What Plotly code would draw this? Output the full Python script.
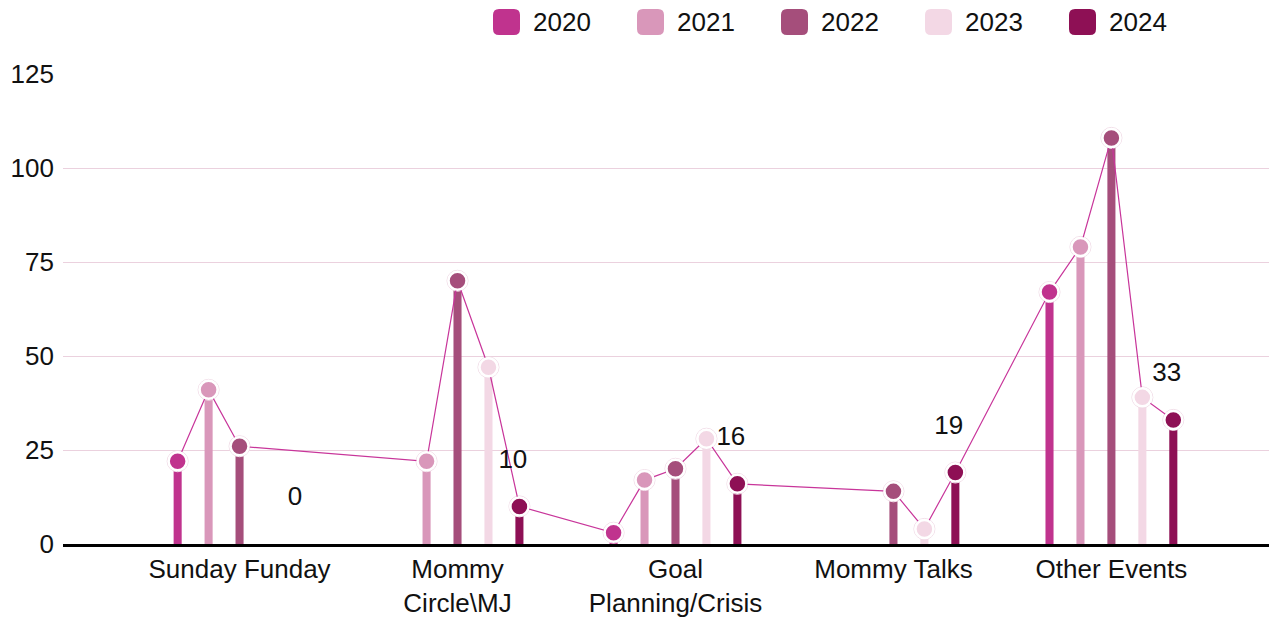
import plotly.graph_objects as go

categories = ["Sunday Funday", "Mommy<br>Circle\\MJ", "Goal<br>Planning/Crisis", "Mommy Talks", "Other Events"]
years = ["2020", "2021", "2022", "2023", "2024"]

v2020 = [22, None, 3, None, 67]
v2021 = [41, 22, 17, None, 79]
v2022 = [26, 70, 20, 14, 108]
v2023 = [None, 47, 28, 4, 39]
v2024 = [None, 10, 16, 19, 33]
labels_2024 = ["0", "10", "16", "19", "33"]

series = [v2020, v2021, v2022, v2023, v2024]
colors = ["#C0338E", "#D997BA", "#A54E7B", "#F3D8E5", "#8E1055"]
line_color = "#C8359A"

FONT = "Liberation Sans, Arial, sans-serif"
FS = 26
step = 0.142      # offset between years inside a group (category units)
bar_w = 0.037

W, H = 1269, 625
ML, MR, MT, MB = 63, 0, 74, 81
PW, PH = W - ML - MR, H - MT - MB

def px2x(px):
    return (px - ML) / PW

def px2y(py):
    return (H - MB - py) / PH

fig = go.Figure()

# thin bars (stems)
for k, (yr, vals, col) in enumerate(zip(years, series, colors)):
    xs = [i + (k - 2) * step for i in range(len(categories))]
    fig.add_trace(go.Bar(x=xs, y=vals, width=bar_w, name=yr,
                         marker=dict(color=col, line=dict(width=0)),
                         showlegend=False, hoverinfo="skip"))

# connecting line through all points in order
lx, ly, lc = [], [], []
for i in range(len(categories)):
    for k in range(len(years)):
        lx.append(i + (k - 2) * step)
        ly.append(series[k][i])
        lc.append(colors[k])
# faint halo behind markers
fig.add_trace(go.Scatter(x=lx, y=ly, mode="markers",
                         marker=dict(color="rgba(0,0,0,0)", size=21,
                                     line=dict(color="#F1DCE7", width=1)),
                         showlegend=False, hoverinfo="skip"))
fig.add_trace(go.Scatter(x=lx, y=ly, mode="lines+markers", connectgaps=True,
                         line=dict(color=line_color, width=1.2),
                         marker=dict(color=lc, size=18,
                                     line=dict(color="white", width=2.5)),
                         showlegend=False))

# data labels for 2024
tx = [i + 2 * step - 0.03 for i in range(len(categories))]
ty = [(v if v is not None else 0) + 12 for v in v2024]
fig.add_trace(go.Scatter(x=tx, y=ty, mode="text", text=labels_2024,
                         textfont=dict(family=FONT, size=FS, color="#111111"),
                         showlegend=False, hoverinfo="skip"))

# custom legend with rounded squares
shapes, annotations = [], []
leg_x0, leg_pitch, box_w, box_h, rad, leg_cy = 493, 144, 27, 26, 6, 22
for k, (yr, col) in enumerate(zip(years, colors)):
    x0 = leg_x0 + k * leg_pitch
    x1 = x0 + box_w
    y0 = leg_cy - box_h / 2
    y1 = leg_cy + box_h / 2
    pts = [
        f"M {px2x(x0 + rad)} {px2y(y0)}",
        f"L {px2x(x1 - rad)} {px2y(y0)}",
        f"Q {px2x(x1)} {px2y(y0)} {px2x(x1)} {px2y(y0 + rad)}",
        f"L {px2x(x1)} {px2y(y1 - rad)}",
        f"Q {px2x(x1)} {px2y(y1)} {px2x(x1 - rad)} {px2y(y1)}",
        f"L {px2x(x0 + rad)} {px2y(y1)}",
        f"Q {px2x(x0)} {px2y(y1)} {px2x(x0)} {px2y(y1 - rad)}",
        f"L {px2x(x0)} {px2y(y0 + rad)}",
        f"Q {px2x(x0)} {px2y(y0)} {px2x(x0 + rad)} {px2y(y0)}",
        "Z",
    ]
    shapes.append(dict(type="path", xref="paper", yref="paper", path=" ".join(pts),
                       fillcolor=col, line=dict(width=0)))
    annotations.append(dict(xref="paper", yref="paper", x=px2x(x1 + 11), y=px2y(leg_cy),
                            xanchor="left", yanchor="middle", text=yr, showarrow=False,
                            font=dict(family=FONT, size=FS, color="#111111")))

fig.update_layout(
    width=W, height=H,
    margin=dict(l=ML, r=MR, t=MT, b=MB, autoexpand=False),
    paper_bgcolor="white", plot_bgcolor="white",
    barmode="overlay",
    showlegend=False,
    font=dict(family=FONT, size=FS, color="#111111"),
    shapes=shapes, annotations=annotations,
    xaxis=dict(range=[-0.81, 4.723], tickmode="array", tickvals=list(range(len(categories))),
               ticktext=categories, showgrid=False, zeroline=False,
               showline=True, linecolor="black", linewidth=3, ticks="",
               tickfont=dict(size=FS)),
    yaxis=dict(range=[0, 125], tickvals=[0, 25, 50, 75, 100, 125], showgrid=True,
               gridcolor="#EBD1DE", gridwidth=1, zeroline=False, ticks="",
               ticklabelstandoff=8, tickfont=dict(size=FS)),
)

fig.write_html("out.html")
